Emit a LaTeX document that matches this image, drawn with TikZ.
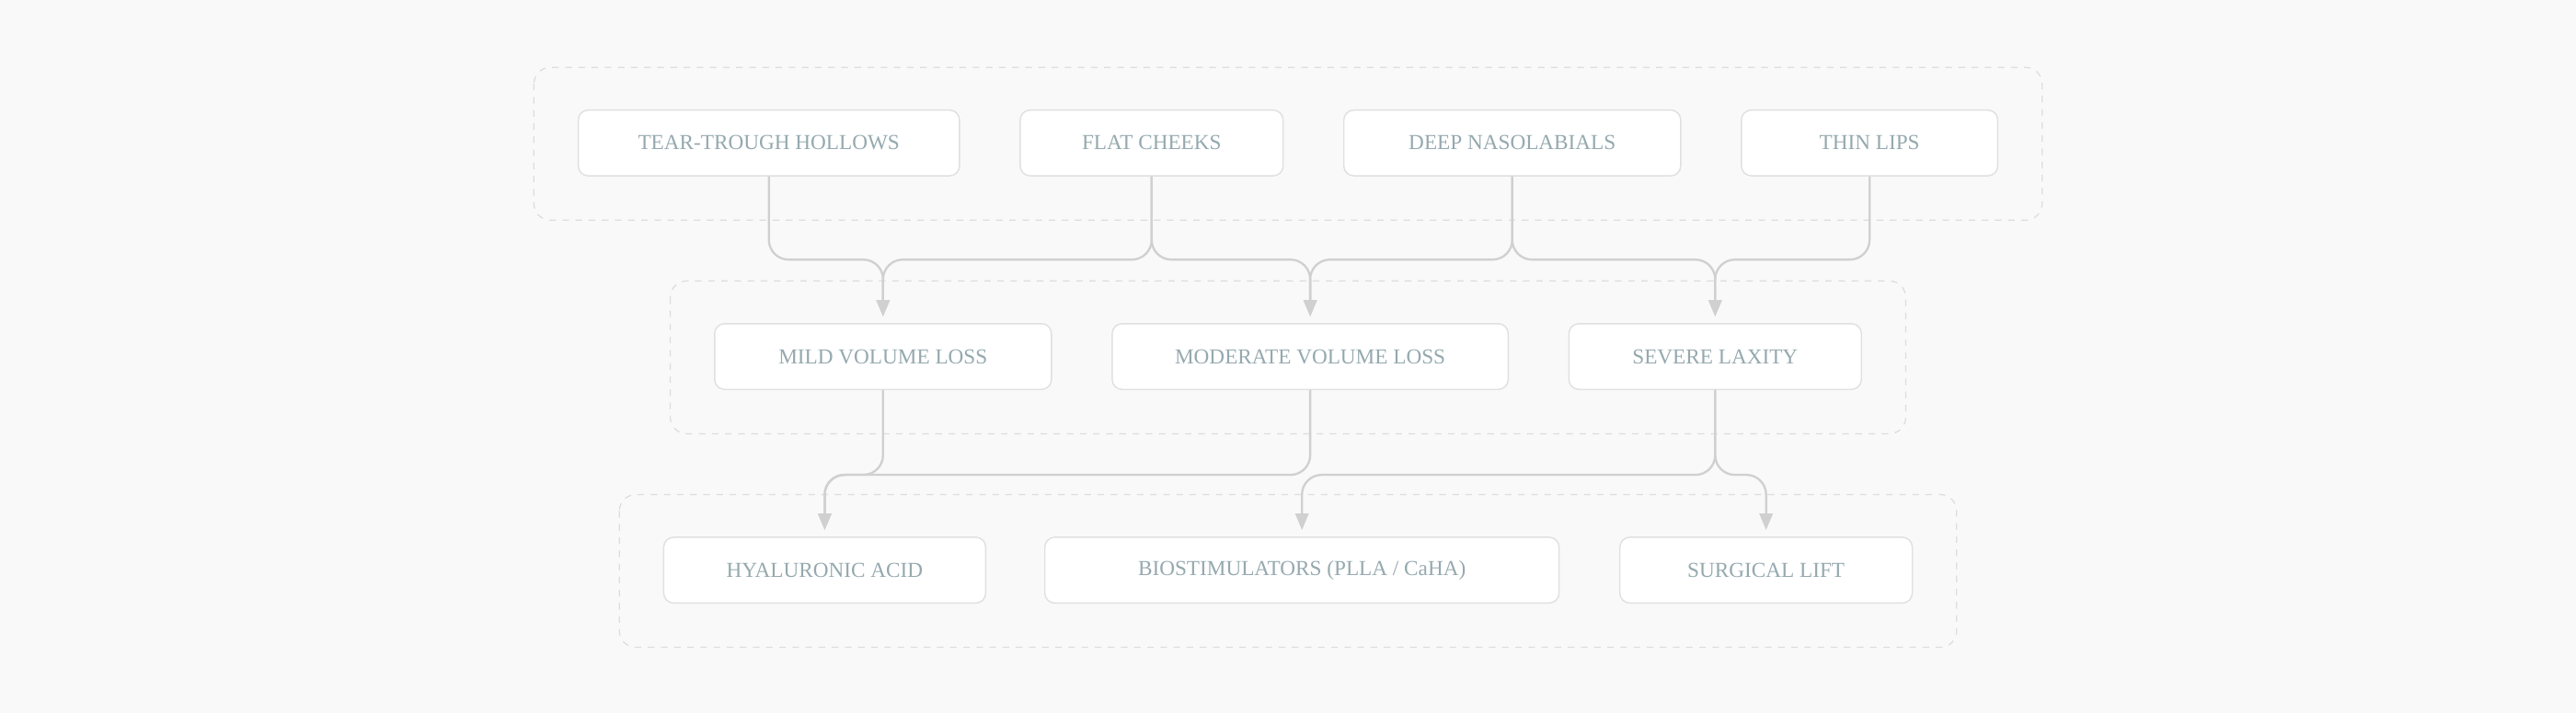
\documentclass[tikz,border=0pt]{standalone}
\usepackage{fontspec}
\setmainfont{Liberation Serif}
\usetikzlibrary{arrows.meta}
\definecolor{bg}{HTML}{F9F9F9}
\definecolor{bx}{HTML}{E0E0E0}
\definecolor{cl}{HTML}{DDDDDD}
\definecolor{ln}{HTML}{D0D0D0}
\definecolor{tx}{HTML}{95A9AF}
\begin{document}
\begin{tikzpicture}[x=1pt,y=-1pt,
  box/.style={draw=bx,line width=0.8pt,fill=white,rounded corners=6pt,text=tx,font=\fontsize{13}{15}\selectfont},
  clu/.style={draw=cl,dashed,line width=0.7pt,dash pattern=on 4pt off 4pt,rounded corners=10pt},
  e/.style={draw=ln,line width=1.3pt,rounded corners=12pt,-{Triangle[length=10pt,width=8pt]}}]
\fill[bg] (0,0) rectangle (1568,434);
\useasboundingbox (0,0) rectangle (1568,434);
\draw[clu] (325,41) rectangle (1243,134);
\draw[clu] (408,171) rectangle (1160,264);
\draw[clu] (377,301) rectangle (1191,394);
\newcommand{\bnode}[6]{\node[box,minimum width=#4-#3,minimum height=40pt] (#1) at ({(#3+#4)/2},#5) {#6};}
\bnode{tear}{}{352}{584}{87}{TEAR-TROUGH HOLLOWS}
\bnode{flat}{}{621}{781}{87}{FLAT CHEEKS}
\bnode{deep}{}{818}{1023}{87}{DEEP NASOLABIALS}
\bnode{thin}{}{1060}{1216}{87}{THIN LIPS}
\bnode{mild}{}{435}{640}{217}{MILD VOLUME LOSS}
\bnode{mod}{}{677}{918}{217}{MODERATE VOLUME LOSS}
\bnode{sev}{}{955}{1133}{217}{SEVERE LAXITY}
\bnode{ha}{}{404}{600}{347}{HYALURONIC ACID}
\bnode{bio}{}{636}{949}{347}{BIOSTIMULATORS (PLLA / CaHA)}
\bnode{surg}{}{986}{1164}{347}{SURGICAL LIFT}
\coordinate (h1) at (0,158);
\coordinate (h2) at (0,289);
\foreach \a/\b in {tear/mild,flat/mild,flat/mod,deep/mod,deep/sev,thin/sev}
  \draw[e] (\a.south) -- (\a.south |- h1) -- (\b.north |- h1) -- ([yshift=4pt]\b.north);
\foreach \a/\b in {mild/ha,mod/ha,sev/bio,sev/surg}
  \draw[e] (\a.south) -- (\a.south |- h2) -- (\b.north |- h2) -- ([yshift=4pt]\b.north);
\end{tikzpicture}
\end{document}
